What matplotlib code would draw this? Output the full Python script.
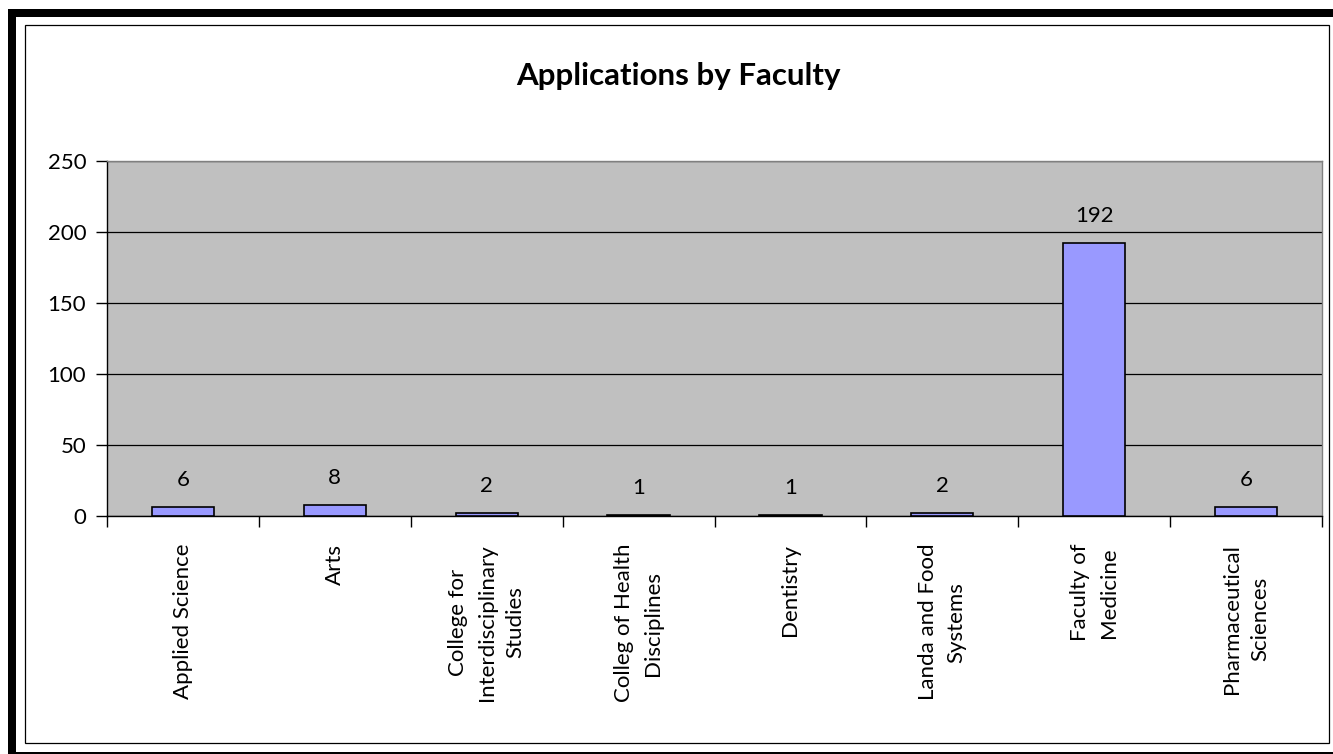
import matplotlib.pyplot as plt
from matplotlib.patches import Rectangle

# data
faculties = ['Applied Science', 'Arts', 'College for\nInterdisciplinary\nStudies',
             'Colleg of Health\nDisciplines', 'Dentistry', 'Landa and Food\nSystems',
             'Faculty of\nMedicine', 'Pharmaceutical\nSciences']
applications = [6, 8, 2, 1, 1, 2, 192, 6]
y_ticks = [0, 50, 100, 150, 200, 250]

plt.rcParams['font.family'] = ['Lato', 'DejaVu Sans']

W, H = 1333, 754
fig = plt.figure(figsize=(W / 100, H / 100), dpi=100)
fig.patch.set_facecolor('white')


def px_rect(x0, y0, x1, y1, **kw):
    # rectangle given in pixel coords (origin top-left)
    return Rectangle((x0 / W, (H - y1) / H), (x1 - x0) / W, (y1 - y0) / H,
                     transform=fig.transFigure, **kw)


# thick black frame (cut off at right / bottom) and thin inner frame
fig.patches.append(px_rect(8, 9, 16, 754, facecolor='black', edgecolor='none'))
fig.patches.append(px_rect(8, 9, 1333, 17, facecolor='black', edgecolor='none'))
fig.patches.append(px_rect(8, 752, 1333, 754, facecolor='black', edgecolor='none'))
fig.patches.append(px_rect(24.5, 25, 1328.5, 742.5, fill=False, edgecolor='black', linewidth=0.9))

ax = fig.add_axes([107 / W, (H - 516) / H, (1322 - 107) / W, (516 - 161) / H])
ax.set_facecolor('#C0C0C0')

x = range(len(faculties))
ax.bar(x, applications, width=0.41, color='#9999FF', edgecolor='black', linewidth=1.2, zorder=3)
for i, v in enumerate(applications):
    ax.annotate(str(v), (i, v), xytext=(0, 27), textcoords='offset pixels',
                ha='center', va='center', fontsize=16)

ax.set_ylim(0, 250)
ax.set_xlim(-0.5, len(faculties) - 0.5)
ax.set_yticks(y_ticks)
ax.tick_params(axis='y', labelsize=16, length=8, width=1, direction='out', pad=7)
ax.yaxis.grid(True, color='black', linewidth=0.9, zorder=1)
ax.set_axisbelow(True)

ax.set_xticks([i + 0.5 for i in range(-1, len(faculties))], minor=False)
ax.set_xticklabels([''] * (len(faculties) + 1))
ax.tick_params(axis='x', length=8, width=1, direction='out')
ax.set_xticks(list(x), minor=True)
ax.set_xticklabels(faculties, minor=True, rotation=90, fontsize=16,
                   ha='center', va='top', multialignment='center', linespacing=1.55)
ax.tick_params(axis='x', which='minor', length=0, pad=20)

for s in ['top', 'right']:
    ax.spines[s].set_color('#808080')
    ax.spines[s].set_linewidth(1)
ax.spines['left'].set_linewidth(1)
ax.spines['bottom'].set_linewidth(1)

fig.text(678 / W, (H - 76) / H, 'Applications by Faculty', ha='center', va='center',
         fontsize=22.5, fontweight='bold')

fig.savefig('out.png', dpi=100)
